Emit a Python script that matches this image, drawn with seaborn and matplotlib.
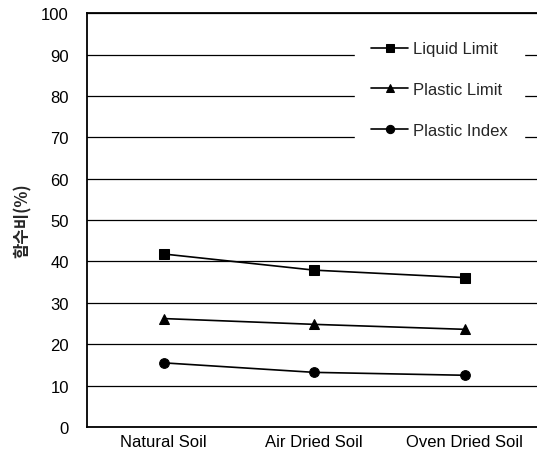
import matplotlib
matplotlib.use("Agg")
import matplotlib.pyplot as plt
import seaborn as sns
import pandas as pd

categories = ["Natural Soil", "Air Dried Soil", "Oven Dried Soil"]
liquid_limit = [41.8, 37.9, 36.1]
plastic_limit = [26.2, 24.8, 23.6]
plastic_index = [15.5, 13.2, 12.5]
series_names = ["Liquid Limit", "Plastic Limit", "Plastic Index"]
y_ticks = list(range(0, 101, 10))

rows = []
for name, vals in zip(series_names, [liquid_limit, plastic_limit, plastic_index]):
    for i, (c, v) in enumerate(zip(categories, vals)):
        rows.append({"x": i, "cat": c, "value": v, "series": name})
df = pd.DataFrame(rows)

sns.set_theme(style="white")
plt.rcParams['font.family'] = ['Liberation Sans', 'DejaVu Sans']

fig = plt.figure(figsize=(5.37, 4.56), dpi=100)
ax = fig.add_axes([0.162, 0.0614, 0.838, 0.9076])

sns.lineplot(data=df, x="x", y="value", hue="series", style="series",
             markers={"Liquid Limit": "s", "Plastic Limit": "^", "Plastic Index": "o"},
             dashes=False, palette=["black"] * 3, markersize=7, linewidth=1.2,
             markeredgecolor="black", ax=ax, zorder=3)

ax.set_xlim(-0.51, 2.48)
ax.set_ylim(0, 100)
ax.set_yticks(y_ticks)
ax.set_xticks(range(len(categories)))
ax.set_xticklabels(categories)
ax.tick_params(axis="both", labelsize=12, colors="black", length=0)
ax.tick_params(axis="x", pad=5)
ax.tick_params(axis="y", pad=13)
ax.yaxis.grid(True, color="black", linewidth=0.9)
ax.xaxis.grid(False)
for s in ["left", "top", "bottom"]:
    ax.spines[s].set_color("black")
    ax.spines[s].set_linewidth(1.3)
ax.spines["right"].set_visible(False)
ax.set_xlabel("")
ax.set_ylabel("함수비(%)", family=['Noto Sans CJK KR', 'DejaVu Sans'], fontsize=12,
              fontweight="bold", labelpad=7)

leg = ax.legend(title=None, loc="upper left", bbox_to_anchor=(0.595, 0.972),
                frameon=True, fontsize=12, labelspacing=1.55, handlelength=2.2,
                handletextpad=0.3, borderpad=1.0, borderaxespad=0, markerscale=0.85)
leg.get_frame().set_facecolor("white")
leg.get_frame().set_edgecolor("white")
leg.get_frame().set_alpha(1)
leg.get_frame().set_boxstyle("square", pad=0)
leg.set_zorder(2)

fig.savefig("out.png", dpi=100)
